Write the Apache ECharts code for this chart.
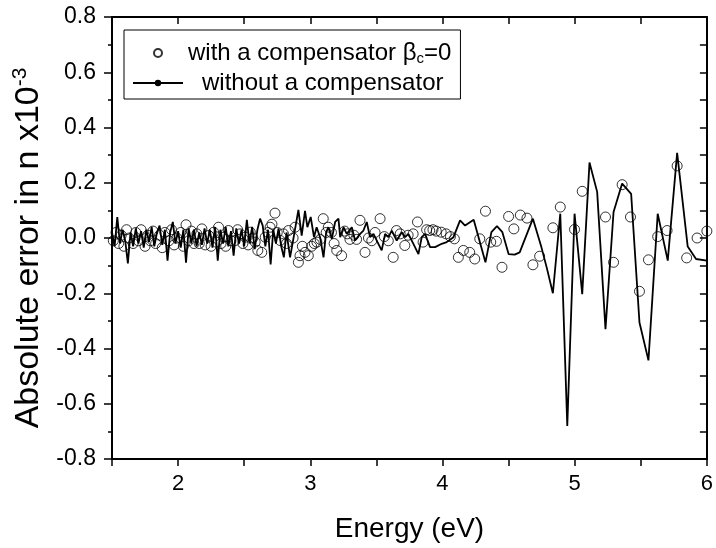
<!DOCTYPE html>
<html>
<head>
<meta charset="utf-8">
<script src="https://cdn.jsdelivr.net/npm/echarts@6/dist/echarts.min.js"></script>
<style>html,body{margin:0;padding:0;background:#fff}#c{width:716px;height:548px}</style>
</head>
<body>
<div id="c"></div>
<script>
// ---- data ----
var xTickLabels = ['2', '3', '4', '5', '6'];
var yTickLabels = ['-0.8', '-0.6', '-0.4', '-0.2', '0.0', '0.2', '0.4', '0.6', '0.8'];

var nameComp = 'with a compensator βc=0';
var nameNoComp = 'without a compensator';

// without a compensator (line)
var lineE = [
 1.50,1.52,1.54,1.56,1.58,1.60,1.62,1.64,1.66,1.68,1.70,1.72,1.74,1.76,1.78,1.80,1.82,1.84,1.86,1.88,
 1.90,1.92,1.94,1.96,1.98,2.00,2.02,2.04,2.06,2.08,2.10,2.12,2.14,2.16,2.18,2.20,2.22,2.24,2.26,2.28,
 2.30,2.32,2.34,2.36,2.38,2.40,2.42,2.44,2.46,2.48,2.50,2.52,2.54,2.56,2.58,2.60,2.62,2.64,2.66,2.68,
 2.70,2.72,2.74,2.76,2.78,2.80,2.82,
 2.847,2.872,2.91,2.935,2.96,2.978,3.003,3.028,3.048,3.074,3.10,3.12,3.137,3.163,3.188,3.213,3.226,
 3.251,3.276,3.314,3.339,3.377,3.402,3.427,3.452,3.478,3.515,3.54,3.566,3.591,3.616,3.654,3.692,
 3.717,3.742,3.78,3.818,3.843,3.868,3.906,3.944,3.994,4.032,4.083,4.133,4.171,
 4.236,4.28,4.325,4.37,4.412,4.453,4.50,4.546,4.584,4.684,4.748,4.79,4.835,4.891,4.944,4.999,
 5.057,5.112,5.17,5.233,5.294,5.359,5.427,5.49,5.558,5.628,5.704,5.775,5.855,5.918,6.0
];
var lineV = [
 0.02,-0.03,0.076,-0.02,0.03,-0.01,-0.092,0.02,-0.03,0.035,-0.02,0.025,-0.035,0.03,-0.015,0.04,-0.03,0.02,0.045,-0.025,
 0.03,-0.082,0.02,0.058,-0.02,0.025,-0.035,0.03,-0.089,0.035,-0.02,0.03,-0.03,0.02,-0.025,0.035,-0.02,0.03,-0.035,0.04,
 -0.082,0.03,-0.02,0.04,-0.03,0.025,-0.064,0.035,-0.02,0.03,-0.03,0.066,-0.02,0.04,-0.04,0.03,0.07,0.045,-0.03,0.03,
 -0.096,0.03,-0.02,0.035,-0.03,-0.07,0.02,
 -0.07,-0.003,0.102,0.009,0.098,0.039,0.076,0.003,0.039,0.003,-0.07,0.021,0.039,-0.003,0.058,0.07,0.003,
 0.039,0.015,0.039,-0.009,0.015,0.027,0.058,0.003,0.015,-0.021,-0.045,0.015,0.003,0.027,-0.009,0.021,
 0.003,0.015,-0.021,-0.058,0.003,0.015,-0.033,-0.033,-0.021,-0.015,0.003,0.064,0.045,
 0.066,-0.01,-0.088,0.021,0.043,0.021,-0.058,-0.06,-0.052,0.07,-0.033,-0.11,-0.2,0.088,-0.68,0.088,
 -0.203,0.273,0.167,-0.33,0.094,0.197,0.16,-0.306,-0.443,0.088,-0.082,0.308,-0.031,-0.076,-0.082
];

// with a compensator (open circles)
var circE = [
 1.51,1.53,1.55,1.57,1.59,1.61,1.63,1.66,1.68,1.70,1.72,1.75,1.77,1.79,1.81,1.83,1.86,1.88,1.90,1.93,
 1.95,1.97,1.99,2.02,2.04,2.06,2.08,2.10,2.12,
 2.142,2.16,2.18,2.205,2.231,2.25,2.269,2.29,2.306,2.325,2.344,2.36,2.381,2.40,2.432,2.45,2.47,2.49,
 2.508,2.53,2.546,2.565,2.583,2.603,2.633,2.659,2.68,2.696,2.71,2.733,2.75,2.772,2.797,2.82,2.835,
 2.87,2.885,2.91,2.922,2.94,2.96,2.985,3.01,3.03,3.05,3.075,3.098,3.12,3.136,3.16,3.18,3.20,3.237,
 3.26,3.28,3.30,3.33,3.35,3.376,3.414,3.44,3.465,3.49,3.528,3.56,3.59,3.627,3.652,3.68,3.715,3.74,
 3.778,3.811,3.853,3.88,3.903,3.928,3.953,3.99,4.028,4.06,4.09,4.12,4.158,
 4.206,4.244,4.282,4.325,4.365,4.408,4.45,4.50,4.54,4.589,4.639,4.684,4.735,4.835,4.891,4.999,
 5.057,5.233,5.294,5.359,5.422,5.49,5.558,5.628,5.699,5.775,5.847,5.926,6.0
];
var circV = [
 -0.01,0.02,-0.02,0.01,-0.03,0.03,0.0,-0.02,0.02,-0.01,0.03,-0.03,0.01,-0.01,0.025,-0.02,0.01,-0.035,0.02,-0.01,
 0.03,-0.025,0.0,0.02,-0.03,0.048,-0.01,0.025,-0.02,
 0.015,-0.02,0.033,-0.025,0.009,-0.03,0.021,-0.015,0.039,-0.02,0.003,-0.03,0.027,-0.01,-0.009,0.03,0.015,-0.02,
 0.003,-0.025,0.021,0.0,-0.015,-0.045,-0.052,0.003,0.02,0.039,0.05,0.09,0.02,-0.009,0.015,-0.02,0.027,
 0.0,0.039,-0.088,-0.064,-0.03,-0.052,-0.064,-0.03,-0.02,-0.015,-0.005,0.07,0.02,0.039,0.02,-0.02,-0.045,-0.064,
 0.025,0.015,-0.005,0.01,-0.005,0.064,-0.052,0.0,-0.01,0.02,0.07,0.005,-0.01,-0.07,0.027,0.015,-0.027,0.01,
 0.015,0.058,-0.015,0.03,0.027,0.03,0.025,0.021,0.015,0.005,-0.003,-0.07,-0.045,
 -0.052,-0.076,-0.003,0.097,-0.015,-0.012,-0.106,0.078,0.033,0.083,0.072,-0.097,-0.066,0.037,0.112,0.031,
 0.169,0.076,-0.088,0.193,0.076,-0.193,-0.079,0.005,0.027,0.261,-0.072,0.0,0.025
];

// ---- chart ----
function pairs(xs, ys) { return xs.map(function (x, i) { return [x, ys[i]]; }); }
var FONT = '"Liberation Sans", Arial, Helvetica, sans-serif';
var chart = echarts.init(document.getElementById('c'), null, { renderer: 'canvas' });

function isInt(v) { return Math.abs(v - Math.round(v)) < 1e-6; }
function yLab(v) {
  var s = (Math.abs(v) < 1e-9 ? 0 : v).toFixed(1);
  return yTickLabels.indexOf(s) >= 0 ? s : '';
}
function xLab(v) {
  var s = String(Math.round(v));
  return isInt(v) && xTickLabels.indexOf(s) >= 0 ? s : '';
}

var option = {
  backgroundColor: '#fff',
  animation: false,
  grid: { left: 112, right: 8, top: 17, bottom: 89, containLabel: false },
  legend: {
    orient: 'vertical', left: 124, top: 30,
    borderColor: '#000', borderWidth: 1, borderRadius: 0,
    padding: [4, 9, 3, 8],
    itemWidth: 50, itemHeight: 8, itemGap: 4,
    selectedMode: false,
    data: [nameComp, nameNoComp],
    formatter: function (n) {
      return n === nameComp ? 'with a compensator {g|β}{s|c}=0' : '{w|' + n + '}';
    },
    textStyle: {
      fontFamily: FONT, fontSize: 24, color: '#000', lineHeight: 26,
      rich: {
        g: { fontFamily: FONT, fontSize: 24, color: '#000', lineHeight: 26 },
        s: { fontFamily: FONT, fontSize: 15, color: '#000', lineHeight: 15, verticalAlign: 'bottom', padding: [17, 0, 0, 0] },
        w: { fontFamily: FONT, fontSize: 24, color: '#000', lineHeight: 26, padding: [0, 0, 0, 14] }
      }
    }
  },
  xAxis: [
    {
      type: 'value', position: 'bottom', min: 1.5, max: 6, interval: 0.5,
      name: 'Energy (eV)', nameLocation: 'middle', nameGap: 56,
      nameTextStyle: { fontFamily: FONT, fontSize: 28, color: '#000' },
      axisLine: { onZero: false, lineStyle: { color: '#000', width: 2 } },
      axisTick: { inside: false, length: 7, lineStyle: { color: '#000', width: 1.5 } },
      axisLabel: { formatter: xLab, fontFamily: FONT, fontSize: 22, color: '#000', margin: 14 },
      splitLine: { show: false }
    },
    {
      type: 'value', position: 'top', min: 1.5, max: 6, interval: 0.5,
      axisLine: { onZero: false, lineStyle: { color: '#000', width: 2 } },
      axisTick: { inside: true, length: 7, lineStyle: { color: '#000', width: 1.5 } },
      axisLabel: { show: false },
      splitLine: { show: false }
    }
  ],
  yAxis: [
    {
      type: 'value', position: 'left', min: -0.8, max: 0.8, interval: 0.2,
      name: 'Absolute error in n x10{sup|-3}', nameLocation: 'middle', nameGap: 53, nameRotate: 90,
      nameTextStyle: {
        fontFamily: FONT, fontSize: 34, color: '#000', padding: [0, 20, 0, 0],
        rich: { sup: { fontFamily: FONT, fontSize: 21, color: '#000', verticalAlign: 'top', padding: [0, 0, 16, 0] } }
      },
      axisLine: { onZero: false, lineStyle: { color: '#000', width: 2 } },
      axisTick: { inside: false, length: 8, lineStyle: { color: '#000', width: 1.5 } },
      minorTick: { show: true, splitNumber: 2, length: 4, lineStyle: { color: '#000', width: 1.5 } },
      axisLabel: { formatter: yLab, fontFamily: FONT, fontSize: 23, color: '#000', margin: 16 },
      splitLine: { show: false }, minorSplitLine: { show: false }
    },
    {
      type: 'value', position: 'right', min: -0.8, max: 0.8, interval: 0.1,
      axisLine: { onZero: false, lineStyle: { color: '#000', width: 2 } },
      axisTick: { inside: true, length: 7, lineStyle: { color: '#000', width: 1.5 } },
      axisLabel: { show: false },
      splitLine: { show: false }
    }
  ],
  series: [
    {
      name: nameComp, type: 'scatter', xAxisIndex: 0, yAxisIndex: 0,
      symbol: 'circle', symbolSize: 10,
      itemStyle: { color: 'rgba(255,255,255,0)', borderColor: '#000', borderWidth: 1 },
      data: pairs(circE, circV), z: 3
    },
    {
      name: nameNoComp, type: 'line', xAxisIndex: 0, yAxisIndex: 0,
      symbol: 'circle', symbolSize: 4, showSymbol: false,
      lineStyle: { color: '#000', width: 1.8 },
      itemStyle: { color: '#000' },
      data: pairs(lineE, lineV), z: 2
    }
  ]
};
chart.setOption(option);
</script>
</body>
</html>
